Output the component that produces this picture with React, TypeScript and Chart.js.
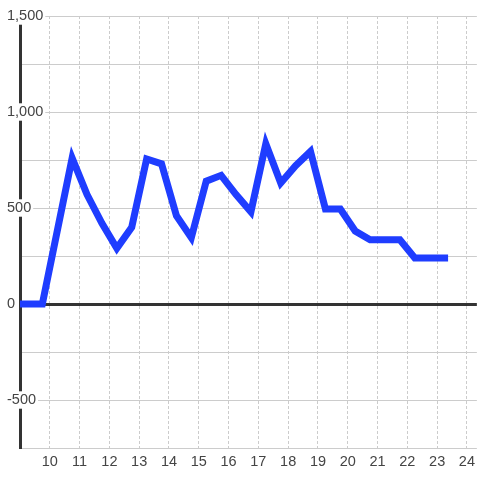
import React, { useEffect, useRef } from 'react';
import { Chart, registerables } from 'chart.js';

Chart.register(...registerables);

const hours = [9, 9.75, 10.75, 11.25, 11.75, 12.25, 12.75, 13.25, 13.75, 14.25, 14.75, 15.25, 15.75, 16.25, 16.75, 17.25, 17.75, 18.25, 18.75, 19.25, 19.75, 20.25, 20.75, 21.25, 21.75, 22.25, 22.75, 23.25];
const values = [0, 0, 760, 570, 420, 290, 400, 755, 730, 460, 345, 640, 670, 570, 480, 835, 630, 720, 795, 495, 495, 380, 335, 335, 335, 240, 240, 240];
const xTickValues = [10, 11, 12, 13, 14, 15, 16, 17, 18, 19, 20, 21, 22, 23, 24];
const xMin = 9;
const xMax = 24 + 1 / 3;
const yMin = -750;
const yMax = 1500;
const yStep = 250;
const yLabelStep = 500;

export default function App() {
  const ref = useRef<HTMLCanvasElement>(null);
  useEffect(() => {
    document.body.style.margin = '0';
    Chart.defaults.font.family = "'Liberation Sans', Arial, sans-serif";
    const chart = new Chart(ref.current as HTMLCanvasElement, {
      type: 'line',
      data: {
        datasets: [
          {
            data: hours.map((h, i) => ({ x: h, y: values[i] })),
            borderColor: '#1f3dff',
            borderWidth: 7,
            pointRadius: 0,
            tension: 0,
            borderCapStyle: 'square',
            fill: false,
          },
        ],
      },
      options: {
        responsive: false,
        animation: false,
        layout: { padding: { left: 6, top: 16, right: 0, bottom: 0 } },
        plugins: { legend: { display: false }, tooltip: { enabled: false } },
        scales: {
          x: {
            type: 'linear',
            min: xMin,
            max: xMax,
            afterBuildTicks: (s: any) => {
              s.ticks = xTickValues.map((v) => ({ value: v }));
            },
            afterFit: (s: any) => {
              s.height = 32;
            },
            grid: { color: '#cccccc', lineWidth: 1, drawTicks: false },
            border: { display: false, dash: [3, 2] },
            ticks: {
              padding: 5,
              color: '#444444',
              font: { size: 14.5 },
              maxRotation: 0,
              autoSkip: false,
              callback: (v: any) => String(v),
            },
          },
          y: {
            type: 'linear',
            min: yMin,
            max: yMax,
            afterFit: (s: any) => {
              s.width = 14;
            },
            ticks: {
              stepSize: yStep,
              mirror: true,
              padding: -13,
              crossAlign: 'near',
              color: '#444444',
              font: { size: 14.5 },
              callback: (v: any) => (Number(v) % yLabelStep === 0 ? Number(v).toLocaleString('en-US') : ''),
              showLabelBackdrop: (ctx: any) => !!ctx.tick && ctx.tick.value % yLabelStep === 0,
              backdropColor: '#ffffff',
              backdropPadding: { x: 2, y: 0 },
            },
            grid: {
              color: (ctx: any) => (ctx.tick && ctx.tick.value === 0 ? '#333333' : '#cccccc'),
              lineWidth: (ctx: any) => (ctx.tick && ctx.tick.value === 0 ? 3 : 1),
              drawTicks: false,
            },
            border: { display: true, color: '#333333', width: 3 },
          },
        },
      },
    } as any);
    return () => chart.destroy();
  }, []);
  return <canvas ref={ref} width={480} height={480} style={{ display: 'block' }} />;
}
